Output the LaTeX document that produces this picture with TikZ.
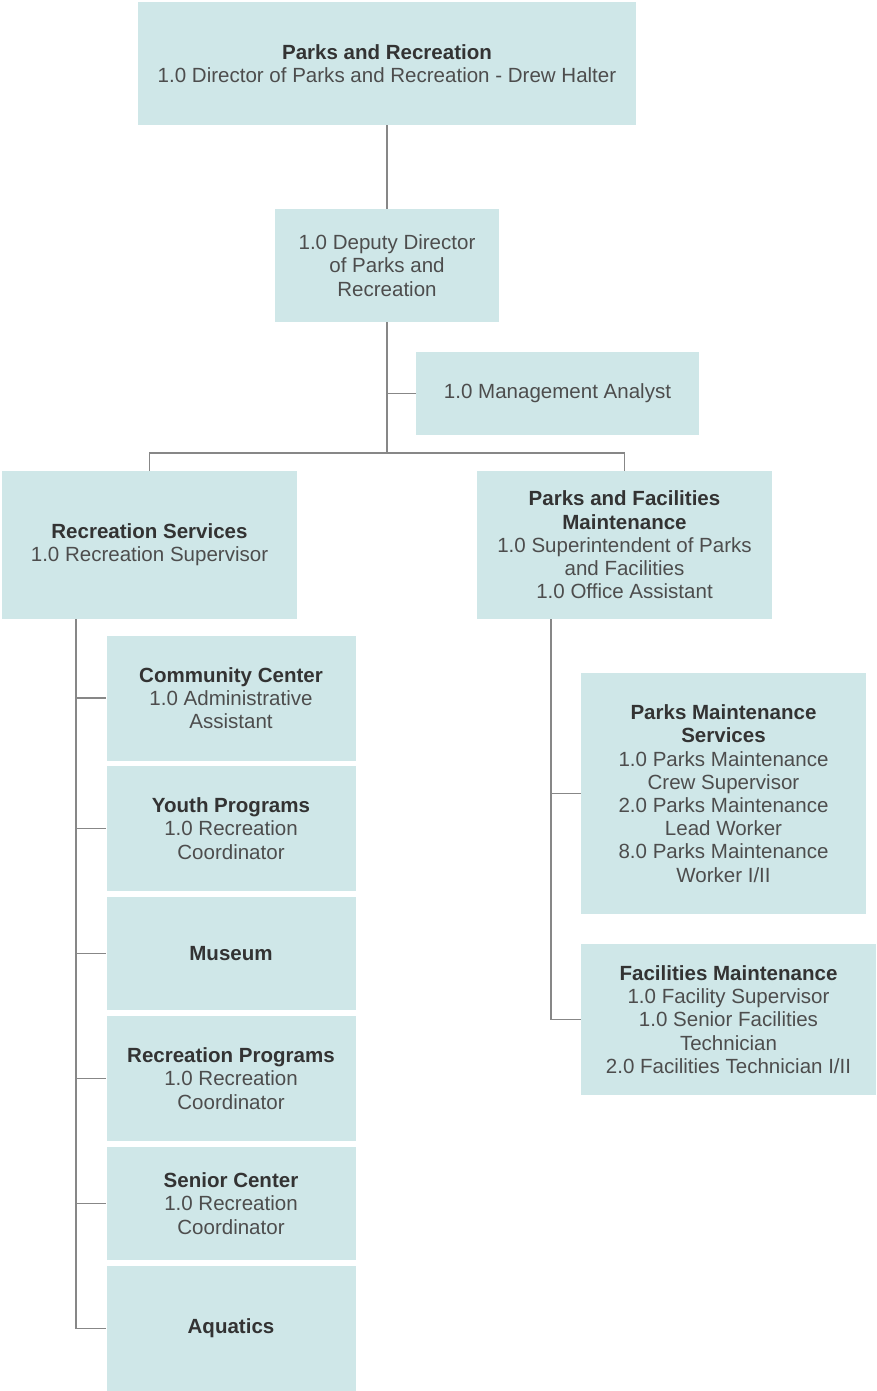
\documentclass[tikz,border=0pt]{standalone}
\usepackage{fontspec}
\setmainfont{Liberation Sans}
\definecolor{boxfill}{HTML}{CFE7E8}
\definecolor{linegray}{HTML}{878787}
\definecolor{txtbold}{HTML}{333333}
\definecolor{txtreg}{HTML}{4D4D4D}
\begin{document}
\begin{tikzpicture}[x=1bp,y=-1bp,
  orgbox/.style={rectangle, fill=boxfill, draw=none, inner sep=0pt, align=center,
    text=txtreg, font=\fontsize{20.6}{23.3}\selectfont},
  conn/.style={draw=linegray, line width=1.6bp}]
\useasboundingbox (0,0) rectangle (876,1391);
\newcommand{\hd}[1]{{\bfseries\color{txtbold}#1}}
% top level
\node[orgbox, minimum width=498bp, minimum height=123bp] (top) at (387,63.5)
  {\hd{Parks and Recreation}\\1.0 Director of Parks and Recreation - Drew Halter};
\node[orgbox, minimum width=224bp, minimum height=113bp] (dep) at (387,265.5)
  {1.0 Deputy Director\\of Parks and\\Recreation};
\node[orgbox, minimum width=283bp, minimum height=83bp] (ana) at (557.5,393.5)
  {1.0 Management Analyst};
\node[orgbox, minimum width=295bp, minimum height=148bp] (rec) at (149.5,545)
  {\hd{Recreation Services}\\1.0 Recreation Supervisor};
\node[orgbox, minimum width=295bp, minimum height=148bp] (pfm) at (624.5,545)
  {\hd{Parks and Facilities}\\\hd{Maintenance}\\1.0 Superintendent of Parks\\and Facilities\\1.0 Office Assistant};
% recreation children
\node[orgbox, minimum width=249bp, minimum height=125bp] (cc) at (231,698)
  {\hd{Community Center}\\1.0 Administrative\\Assistant};
\node[orgbox, minimum width=249bp, minimum height=125bp] (yp) at (231,828.5)
  {\hd{Youth Programs}\\1.0 Recreation\\Coordinator};
\node[orgbox, minimum width=249bp, minimum height=113bp] (mus) at (231,953.5)
  {\hd{Museum}};
\node[orgbox, minimum width=249bp, minimum height=125bp] (rp) at (231,1078.5)
  {\hd{Recreation Programs}\\1.0 Recreation\\Coordinator};
\node[orgbox, minimum width=249bp, minimum height=113bp] (sc) at (231,1203.5)
  {\hd{Senior Center}\\1.0 Recreation\\Coordinator};
\node[orgbox, minimum width=249bp, minimum height=125bp] (aq) at (231,1328.5)
  {\hd{Aquatics}};
% parks children
\node[orgbox, minimum width=285bp, minimum height=241bp] (pms) at (723.5,793.5)
  {\hd{Parks Maintenance}\\\hd{Services}\\1.0 Parks Maintenance\\Crew Supervisor\\2.0 Parks Maintenance\\Lead Worker\\8.0 Parks Maintenance\\Worker I/II};
\node[orgbox, minimum width=295bp, minimum height=151bp] (fm) at (728.5,1019.5)
  {\hd{Facilities Maintenance}\\1.0 Facility Supervisor\\1.0 Senior Facilities\\Technician\\2.0 Facilities Technician I/II};
% connectors
\coordinate (bus) at (387,453);
\coordinate (ls) at (76,619);
\coordinate (rs) at (551,619);
\draw[conn] (top.south) -- (dep.north);
\draw[conn] (dep.south) -- (bus);
\draw[conn] (ana.west) -- (ana.west -| dep.south);
\draw[conn] (rec.north) |- (bus) -| (pfm.north);
\draw[conn] (ls) |- (aq.west);
\foreach \n in {cc,yp,mus,rp,sc} \draw[conn] (ls |- \n.west) -- (\n.west);
\draw[conn] (rs) |- (fm.west);
\draw[conn] (rs |- pms.west) -- (pms.west);
\end{tikzpicture}
\end{document}
